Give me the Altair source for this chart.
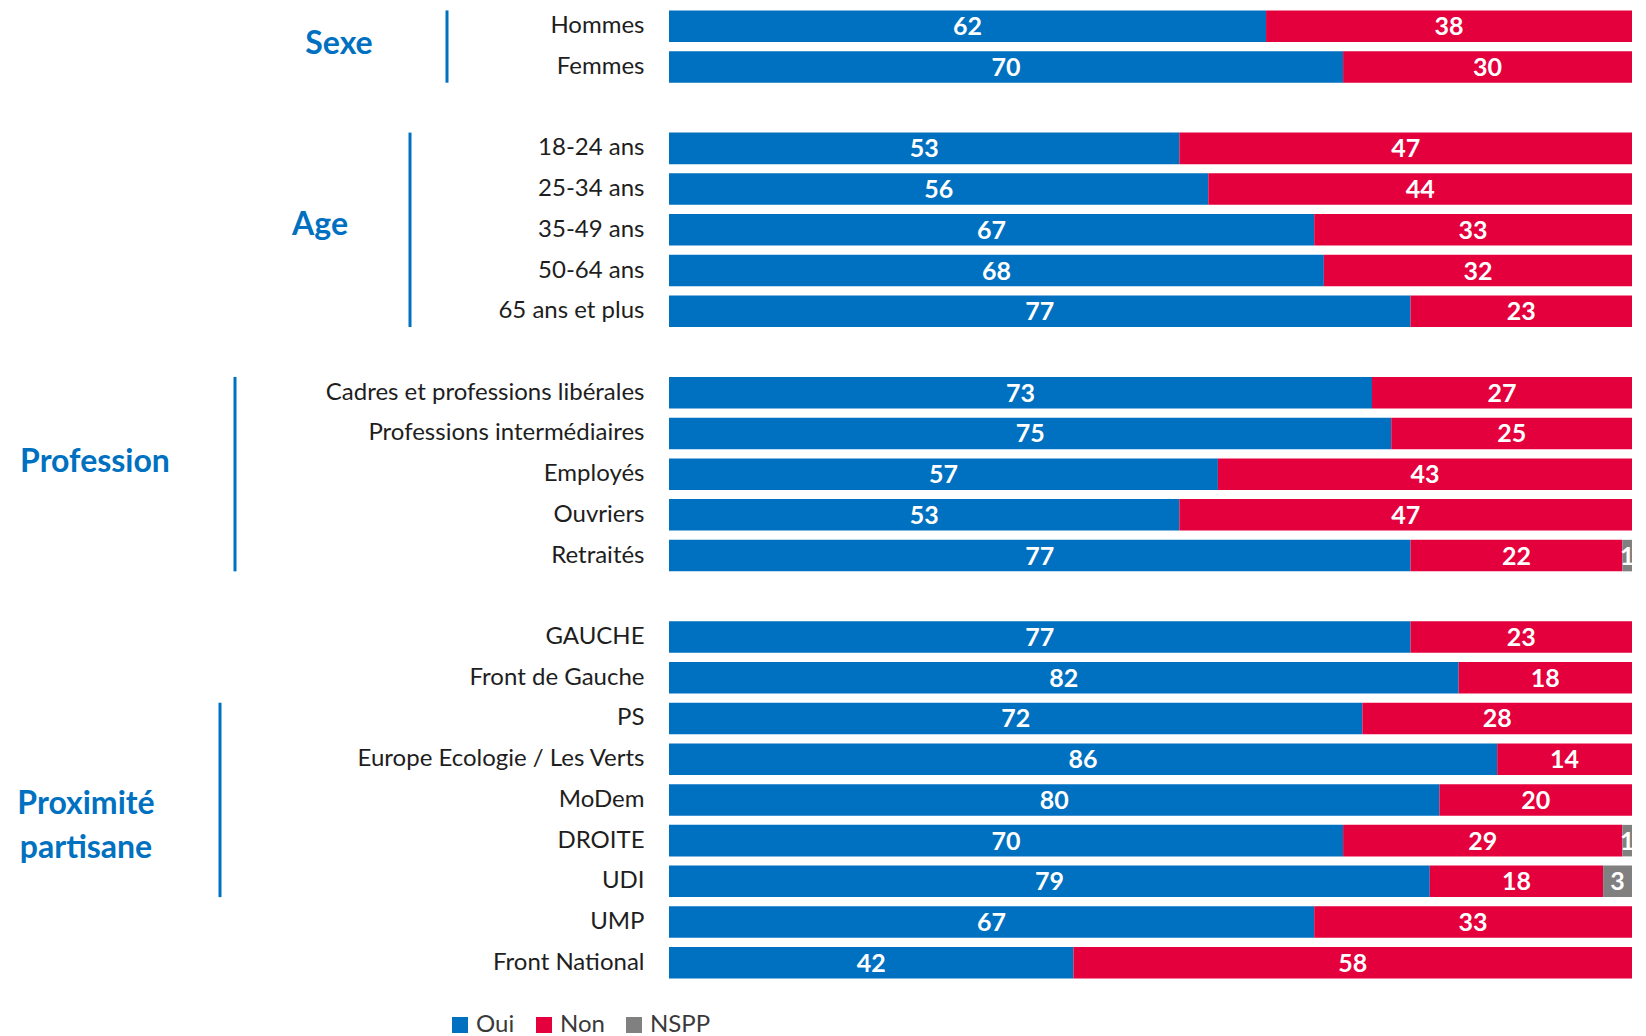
import altair as alt
import pandas as pd

categories = ["Hommes", "Femmes",
              "18-24 ans", "25-34 ans", "35-49 ans", "50-64 ans", "65 ans et plus",
              "Cadres et professions libérales", "Professions intermédiaires", "Employés", "Ouvriers", "Retraités",
              "GAUCHE", "Front de Gauche", "PS", "Europe Ecologie / Les Verts", "MoDem", "DROITE", "UDI", "UMP", "Front National"]
oui = [62, 70, 53, 56, 67, 68, 77, 73, 75, 57, 53, 77, 77, 82, 72, 86, 80, 70, 79, 67, 42]
non = [38, 30, 47, 44, 33, 32, 23, 27, 25, 43, 47, 22, 23, 18, 28, 14, 20, 29, 18, 33, 58]
nspp = [0, 0, 0, 0, 0, 0, 0, 0, 0, 0, 0, 1, 0, 0, 0, 0, 0, 1, 3, 0, 0]
answers = ["Oui", "Non", "NSPP"]
colors = ["#0070C0", "#E4003C", "#808080"]

groups = ["Sexe", "Age", "Profession", "Proximité\npartisane"]
group_sizes = [2, 5, 5, 9]
group_first = ["Hommes", "18-24 ans", "Cadres et professions libérales", "PS"]
group_last = ["Femmes", "65 ans et plus", "Retraités", "UDI"]
group_anchor = ["Hommes", "35-49 ans", "Employés", "MoDem"]
group_dy = [18, -5, -12, 4]
group_text_x = [-330, -349, -574, -583]
group_line_x = [-222, -259, -434, -449]

# band domain with empty spacer rows between groups
rows = []
i = 0
for gi, n in enumerate(group_sizes):
    rows += categories[i:i + n]
    i += n
    if gi < len(group_sizes) - 1:
        rows.append(" " * (gi + 1))

recs = []
for c, a, b, d in zip(categories, oui, non, nspp):
    for k, (rep, v) in enumerate(zip(answers, [a, b, d])):
        if v > 0:
            recs.append({"cat": c, "rep": rep, "val": v, "ord": k})
df = pd.DataFrame(recs)

FONT = "Lato"
yscale = alt.Scale(domain=rows, paddingInner=0.226, paddingOuter=0.06)

bars = alt.Chart(df).mark_bar().encode(
    y=alt.Y("cat:N", scale=yscale, sort=rows, title=None,
            axis=alt.Axis(domain=False, ticks=False, labelPadding=25, labelFont=FONT,
                          labelFontSize=24, labelColor="#1e1e1e", labelLimit=600)),
    x=alt.X("val:Q", stack="zero", scale=alt.Scale(domain=[0, 100]), axis=None),
    color=alt.Color("rep:N", scale=alt.Scale(domain=answers, range=colors),
                    legend=alt.Legend(title=None, orient="none", direction="horizontal",
                                      legendX=-221, legendY=1005, symbolType="square",
                                      symbolSize=256, symbolStrokeWidth=0, labelFont=FONT,
                                      labelFontSize=24, labelColor="#3a3a3a", columnPadding=17,
                                      labelOffset=4)),
    order=alt.Order("ord:Q"),
)

texts = alt.Chart(df).transform_stack(
    stack="val", as_=["x0", "x1"], groupby=["cat"], sort=[alt.SortField("ord")]
).transform_calculate(mid="(datum.x0 + datum.x1) / 2").mark_text(
    color="white", font=FONT, fontWeight="bold", fontSize=25, baseline="middle", align="center",
    dy=1
).encode(
    y=alt.Y("cat:N", scale=yscale, sort=rows),
    x=alt.X("mid:Q", scale=alt.Scale(domain=[0, 100])),
    text=alt.Text("val:Q"),
)

gdf = pd.DataFrame({"g": groups, "first": group_first, "last": group_last, "lx": group_line_x})
rules = alt.Chart(gdf).mark_rule(color="#0070C0", strokeWidth=3).encode(
    y=alt.Y("first:N", scale=yscale, sort=rows, bandPosition=0),
    y2=alt.Y2("last:N", bandPosition=1),
    x=alt.X("lx:Q", scale=None),
)

layers = [bars, texts, rules]
for g, anc, dy, tx in zip(groups, group_anchor, group_dy, group_text_x):
    d = pd.DataFrame({"g": [g], "anchor": [anc], "tx": [tx]})
    layers.append(
        alt.Chart(d).mark_text(color="#0070C0", font=FONT, fontWeight="bold", fontSize=32,
                               align="center", baseline="middle", dy=dy, lineBreak="\n",
                               lineHeight=44).encode(
            y=alt.Y("anchor:N", scale=yscale, sort=rows),
            x=alt.X("tx:Q", scale=None),
            text="g:N",
        )
    )

chart = alt.layer(*layers).properties(
    width=963, height=973,
    autosize=alt.AutoSizeParams(type="none"),
    padding={"left": 661, "top": 0, "right": 6, "bottom": 55},
).configure_view(stroke=None)

chart.save("out.html", embed_options={"renderer": "svg", "actions": False})
